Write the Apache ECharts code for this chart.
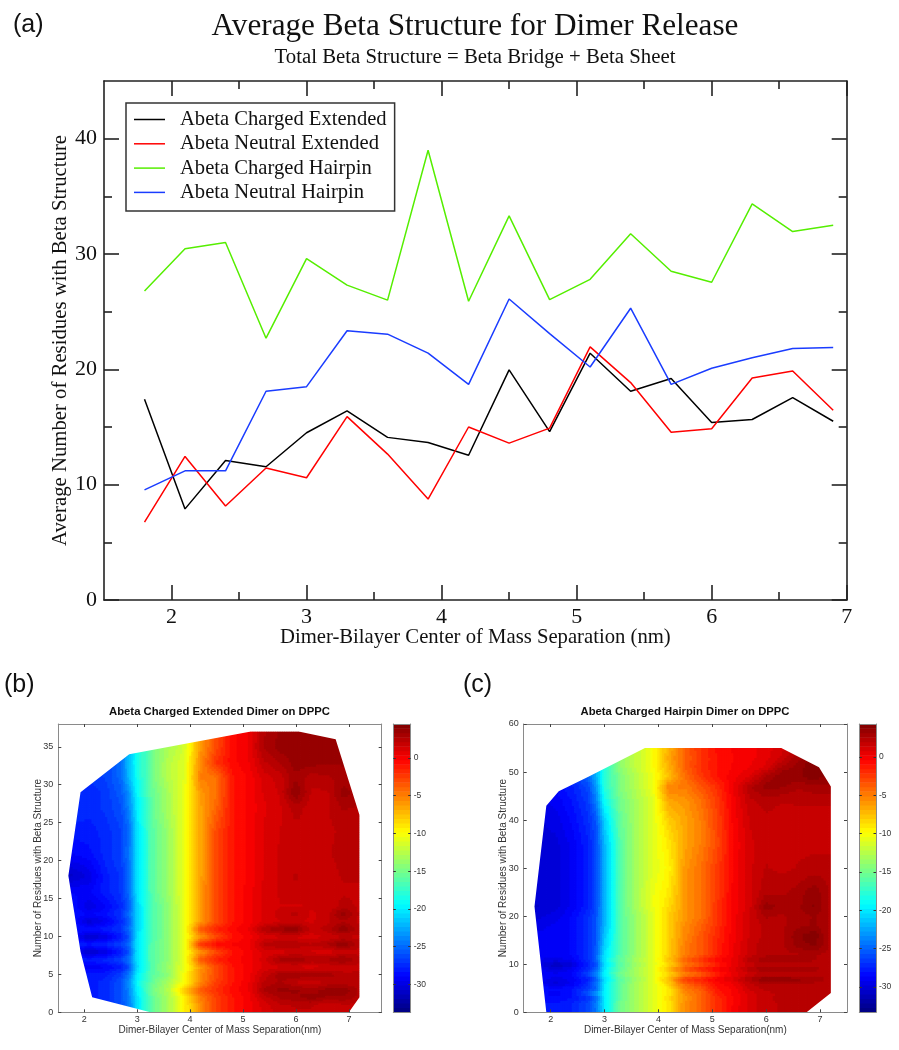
<!DOCTYPE html>
<html>
<head>
<meta charset="utf-8">
<style>html,body{margin:0;padding:0;background:#fff}#chart{width:899px;height:1050px}</style>
<script src="https://cdn.jsdelivr.net/npm/echarts@6/dist/echarts.min.js"></script>
</head>
<body>
<div id="chart"></div>
<script>
// ---------- panel (a) ----------
const separation = [1.8,2.1,2.4,2.7,3.0,3.3,3.6,3.9,4.2,4.5,4.8,5.1,5.4,5.7,6.0,6.3,6.6,6.9];
const chargedExtended = [17.4,7.9,12.1,11.55,14.5,16.4,14.1,13.65,12.55,19.95,14.6,21.4,18.1,19.2,15.4,15.65,17.55,15.5];
const neutralExtended = [6.75,12.45,8.15,11.45,10.6,15.9,12.65,8.75,15.0,13.6,14.9,21.95,18.85,14.55,14.85,19.25,19.85,16.45];
const chargedHairpin = [26.8,30.45,31.0,22.7,29.6,27.3,26.0,39.0,25.9,33.3,26.05,27.8,31.75,28.5,27.55,34.35,31.95,32.5];
const neutralHairpin = [9.55,11.2,11.2,18.1,18.5,23.35,23.05,21.4,18.7,26.1,23.1,20.2,25.3,18.7,20.1,21.0,21.8,21.9];
const xMajorA = [2,3,4,5,6,7];
const xMinorA = [2.5,3.5,4.5,5.5,6.5];
const yMajorA = [0,10,20,30,40];
const yMinorA = [5,15,25,35];

// ---------- contour grids: one row per residue count, one column per separation ----------
const fieldX = [1.7,2.1,2.4,2.7,2.85,3.0,3.3,3.6,3.9,4.2,4.5,4.8,5.1,5.4,5.7,6.0,6.3,6.6,6.9,7.2];

const fieldYB = [0,1,2,3,4,5,6,7,8,9,10,11,12,13,14,16,18,21,24,27,29,31,33,35,37];
const fieldB = [
[-28,-28,-27.5,-26,-24.5,-20.5,-15.5,-13,-9.5,-5.5,-2.5,-1,0,1,1.8,2,2,1.5,2,2],
[-28,-28,-27.5,-26,-24.5,-20.5,-15.5,-13,-9.5,-5.5,-2.5,-1,0,1.2,2,2.2,2.2,1.5,2,2],
[-28,-28,-27.5,-26,-24,-20.5,-15.5,-13,-9.5,-5,-2.5,-1,0,1.8,2.8,3.2,3.6,3.2,3.2,2.5],
[-28,-28,-27.5,-26,-24,-20,-15,-12.5,-7.5,-3.5,-2,-.5,.2,2.8,3.5,3.4,3,3.6,3.8,2.6],
[-28,-28,-27.5,-26,-23.5,-19.5,-15.5,-13,-10,-5.5,-2.5,-1,.2,2.2,2.8,2,1.6,2.2,2.2,2.4],
[-28,-28,-28,-26.5,-24.5,-20,-16,-14,-10,-5.5,-3,-1,0,1.8,3,3.2,3.2,3,2.4,2.2],
[-28,-29.5,-29,-28,-26,-21,-16,-13.5,-10.5,-6,-3,-1,0,1,1.4,1.4,1.2,1.6,1.6,2],
[-28,-28,-27.5,-26.5,-24.5,-20.5,-16,-14,-10.5,-3.5,-1.5,-.5,0,1.2,3,3.4,2.6,2.8,3.6,2.2],
[-28,-31,-30,-28,-26,-20.5,-16,-14,-10.5,-6,-3,-1,0,1,1.2,1.6,1.4,1.2,1.6,2],
[-28,-28,-27.5,-26.5,-25,-20.5,-16,-14,-10.5,-2,-.6,-.2,.2,2.4,2.8,2.6,2.2,2.8,4.1,2.2],
[-28,-31,-30,-28,-26,-20.5,-16.5,-14,-10.5,-6,-3,-1,0,1,1.4,1.4,1.2,1.6,2,2],
[-28,-28.5,-28,-27,-25,-21,-16.5,-14,-10.5,-3.5,-1.5,-.5,.3,2.6,3.4,3.9,1.8,2.4,4,2.2],
[-28,-30.5,-29.5,-27.5,-25.5,-21,-16.5,-14,-10.5,-6,-3,-1,0,1,1.5,1.6,1.4,2,2.6,2],
[-28,-29,-28.5,-27,-25,-21,-16.5,-14,-10.5,-6,-3,-1,0,1,1.8,2.4,1.4,1.8,3.8,2],
[-28,-30,-29,-27.5,-25.5,-21,-16.5,-14,-10.5,-6,-3,-1,0,1,1.5,1.4,1.6,1.6,2.4,2],
[-29,-29,-28,-27,-25,-20.5,-16,-13.5,-10.5,-6,-3,-1,0,1,1.6,2,1.6,1.6,2,2],
[-31,-30,-28,-27,-25,-20.5,-16,-13.5,-10.5,-6.5,-3,-1,-.2,1,1.6,2.2,1.6,1.8,2.2,2.2],
[-29,-28.5,-27.5,-26.5,-24.5,-20.5,-16,-13.5,-10.5,-6.5,-3,-1,-.2,1,1.6,1.8,1.8,2,2.4,2.2],
[-28,-28,-27.5,-26.5,-25,-20.5,-16,-13.5,-10.5,-6.5,-3,-1,-.2,1,1.5,1.9,2,2,2.2,2.2],
[-27,-27.5,-27,-26,-24,-20,-15.5,-13,-10.5,-6.5,-4,-1,-.2,.8,1.4,2.4,1.8,2,2.8,2.6],
[-27,-27.5,-27,-25.5,-23.5,-19.5,-15.5,-13,-10.5,-6,-4.5,-1,-.2,1,1.6,4,2,2,3.6,3],
[-27,-27,-26.5,-25,-22,-19,-15,-12.5,-11,-5,-4.5,-1,-.2,1.2,1.8,3.2,2.4,2.6,3,3],
[-27,-27,-26.5,-25,-21.5,-19,-15,-12.5,-11,-5.5,-2,-.5,.2,2,2.8,3.6,3.6,3.4,3.4,3],
[-26.5,-26.5,-26,-25,-22,-19,-15,-13,-11.5,-6,-3,-.5,.3,2.8,3.6,3.4,3.6,3.8,3.4,3],
[-26.5,-26.5,-26,-25,-22,-19,-15,-13,-11.5,-6,-3,-.5,.3,2.6,3.4,3.4,3.6,3.6,3.4,3]
];
const hullB = [[1.7,18],[1.93,29],[2.85,34],[5.15,37],[6.05,37],[6.75,36],[7.2,26],[7.2,2],[7,0],[3.25,0],[2.15,2],[1.93,8],[1.7,18]];

const fieldYC = [0,2,3,4,5,6,7,8,9,10,11,12,14,16,18,20,22,25,30,35,40,44,47,49,51,53,55];
const fieldC = [
[-28,-28,-27.5,-26,-24.5,-20,-15,-13,-11,-9,-5.5,-4,-2,-.2,1,1.8,2,2,2,2],
[-28,-28,-27.5,-26,-24,-20,-15,-13,-11,-9,-5.5,-4,-2,-.3,1,1.8,2,2,2,2],
[-28,-28.5,-28,-27,-25,-20,-15.5,-13,-11,-8.5,-6,-4,-2,-.3,1,1.8,2.2,2.2,2.2,2.2],
[-28,-29,-28,-25.5,-23,-19.5,-15.5,-13,-11,-9,-5.5,-4,-1.5,-.3,1,1.8,2,2.2,2,2.2],
[-28,-28.5,-28,-26.5,-25,-20,-15.5,-13,-11,-9,-5,-3.5,-1,-.2,1.5,2.2,2.4,2,2.2,2.4],
[-28.5,-30,-29,-27,-24.5,-20,-15.5,-13,-11,-8,-4,-2.5,-.8,.2,1.8,2.6,2.4,2.4,2.4,2.2],
[-28.5,-29.5,-29,-27.5,-25.5,-20.5,-16,-13.5,-11,-7,-2.5,-1.5,0,1,2.6,4,3.6,3.4,3,2.4],
[-28.5,-29,-28.5,-26,-23.5,-19.5,-15,-13,-11,-8.5,-5.5,-4,-1.5,.2,1.4,2,2,2,2,2.2],
[-28.5,-30,-29,-27,-25,-20,-15.5,-13,-11,-7,-3.5,-1.5,-.3,.6,2.4,3.2,3.2,3,2.8,2.2],
[-29,-31,-30,-27.5,-26,-20.5,-16,-13.5,-11,-8.5,-5,-3.5,-1.5,.3,1.6,2,2,2,2.2,2.2],
[-29,-29.5,-29,-27,-25,-20,-15.5,-13,-11,-7.5,-4,-2,-.5,.4,2.4,3,3,3,2.6,2.2],
[-29,-29,-28.5,-27,-25,-20.5,-16,-13.5,-11,-8,-5,-3.5,-1.5,.2,1.6,2.4,2.4,2.4,2.6,2.2],
[-29,-29,-28.5,-27,-25.5,-21,-16,-13.5,-11,-8,-5,-3.5,-1.5,.1,1.6,2.4,2.4,3.4,3.8,2.4],
[-29,-29,-28.5,-27,-25.5,-21.5,-16,-13.5,-11,-8,-5.5,-3.5,-1.8,0,1.4,2.2,2.4,3.6,4.2,2.4],
[-29.5,-29,-28.5,-27,-25.5,-22,-16,-13.5,-11,-8,-5.5,-4,-2,0,1.4,2.2,2.4,3,3.2,2.4],
[-30,-29.5,-28.5,-27,-25.5,-22,-16,-13.5,-11,-8,-6,-4.5,-2.2,-.1,1.4,2.6,2.4,2.8,3.2,2.4],
[-30.5,-30,-29,-27.5,-26,-22,-16,-13,-10.5,-8.5,-6,-4.5,-2.2,-.2,1.2,3.4,3,3,3.8,2.4],
[-30,-30,-29,-27.5,-26,-22,-16,-13,-10.5,-9,-6,-4.5,-2.4,-.2,1.2,2.4,2.4,2.8,3.6,2.4],
[-30,-30,-29,-27.5,-26,-22,-16,-13,-11,-9.5,-6,-4.5,-2.5,-.3,1.2,2,1.8,2,2.2,2.2],
[-30,-30,-29,-27.5,-26,-22,-16,-13,-11,-9,-6.5,-5,-3,-.4,1.2,1.8,1.6,1.8,1.8,1.8],
[-30,-29.5,-28.5,-27,-25.5,-21,-15.5,-13,-11,-8,-6.5,-5,-2.8,-.2,1.4,1.8,1.6,1.8,1.8,1.8],
[-29.5,-29,-28,-26.5,-24,-19,-15,-13,-11,-6.5,-6,-4.5,-2.5,0,1.8,2.2,2,2,2,2],
[-29,-28.5,-27.5,-26,-23,-18,-14.5,-12.5,-10.5,-5,-5,-3.5,-2,.2,2.4,3.4,3.2,2.6,3,3],
[-29,-28,-27,-25,-22,-18,-14.5,-12.5,-10.5,-7.5,-4.5,-2.5,-1,0,.8,2.8,3.6,3.6,4,3.4],
[-29,-28,-27,-25,-22,-18,-14,-12,-10,-7,-4,-2,-1,-.3,.2,1,2.8,3.4,4.4,3.6],
[-29,-28,-27,-25,-22,-18,-14,-12,-10,-6.5,-4,-2.2,-1,-.4,0,.5,1.5,3,4,3.6],
[-29,-28,-27,-25,-22,-18,-14,-12,-10,-7,-4,-2,-.8,-.3,0,.5,1.2,2.5,4,3.6]
];
const hullC = [[1.7,22],[1.92,43],[2.15,46],[2.7,49],[3.75,55],[6.28,55],[6.98,51],[7.2,47],[7.2,4],[6.75,0],[1.92,0],[1.7,22]];

const panelXTicks = [2,3,4,5,6,7];
const yTicksB = [0,5,10,15,20,25,30,35];
const yTicksC = [0,10,20,30,40,50,60];
const barTicks = [-30,-25,-20,-15,-10,-5,0];
const COLOR_LEVELS = 64;

// ---------- helpers ----------
function jet(t){
  t = Math.max(0, Math.min(0.9999, t));
  t = (Math.floor(t * COLOR_LEVELS) + 0.5) / COLOR_LEVELS;
  const c = v => Math.round(255 * Math.max(0, Math.min(1, v)));
  const r = 1.5 - Math.abs(4 * t - 3), g = 1.5 - Math.abs(4 * t - 2), b = 1.5 - Math.abs(4 * t - 1);
  return 'rgb(' + c(r) + ',' + c(g) + ',' + c(b) + ')';
}
const serif = '"Liberation Serif","Times New Roman",serif';
const sans = '"Liberation Sans",Arial,sans-serif';

const grids = [], xAxes = [], yAxes = [], series = [];
function addGrid(l, t, w, h){ grids.push({left:l, top:t, width:w, height:h, containLabel:false}); return grids.length - 1; }

function axis(store, o){
  const lineW = o.lineWidth, col = o.lineColor;
  const a = {
    type:'value', gridIndex:o.grid, min:o.min, max:o.max, position:o.position, z:5, silent:true,
    axisLine:{show:o.line !== false, onZero:false, lineStyle:{color:col, width:lineW}},
    axisTick:{show:!!o.ticks, inside:true, length:o.tickLen || 3, customValues:o.ticks,
      lineStyle:{color:o.tickColor || col, width:o.tickWidth || lineW}},
    splitLine:{show:false}, minorTick:{show:false},
    axisLabel:o.labels ? {show:true, customValues:o.labels, margin:o.margin, fontFamily:o.font, fontSize:o.fontSize, color:o.labelColor,
      showMinLabel:true, showMaxLabel:true, hideOverlap:false} : {show:false}
  };
  if (o.name){
    a.name = o.name; a.nameLocation = 'middle'; a.nameGap = o.nameGap; a.nameMoveOverlap = false;
    a.nameTextStyle = {fontFamily:o.font, fontSize:o.nameSize, color:o.labelColor};
    if (o.nameRotate !== undefined) a.nameRotate = o.nameRotate;
  }
  store.push(a);
  return store.length - 1;
}

// ---------- panel (a) ----------
const gA = addGrid(104, 81, 742.7, 519);
const st = {grid:gA, lineColor:'#222', lineWidth:1.6};
const sx = Object.assign({}, st, {min:1.5, max:7});
const sy = Object.assign({}, st, {min:0, max:45});
const axA = axis(xAxes, Object.assign({}, sx, {position:'bottom', ticks:xMajorA, tickLen:15, labels:xMajorA, margin:6, font:serif, fontSize:22, labelColor:'#111',
  name:'Dimer-Bilayer Center of Mass Separation (nm)', nameGap:27, nameSize:20.7}));
axis(xAxes, Object.assign({}, sx, {position:'bottom', line:false, ticks:xMinorA, tickLen:8}));
axis(xAxes, Object.assign({}, sx, {position:'top', ticks:xMajorA, tickLen:15}));
axis(xAxes, Object.assign({}, sx, {position:'top', line:false, ticks:xMinorA, tickLen:8}));
const ayA = axis(yAxes, Object.assign({}, sy, {position:'left', ticks:yMajorA, tickLen:15, labels:yMajorA, margin:7, font:serif, fontSize:22, labelColor:'#111',
  name:'Average Number of Residues with Beta Structure', nameGap:33, nameSize:20.75}));
axis(yAxes, Object.assign({}, sy, {position:'left', line:false, ticks:yMinorA, tickLen:8}));
axis(yAxes, Object.assign({}, sy, {position:'right', ticks:yMajorA, tickLen:15}));
axis(yAxes, Object.assign({}, sy, {position:'right', line:false, ticks:yMinorA, tickLen:8}));

const lines = [
  ['Abeta Charged Extended', chargedExtended, '#000000'],
  ['Abeta Neutral Extended', neutralExtended, '#ff0000'],
  ['Abeta Charged Hairpin', chargedHairpin, '#55ee00'],
  ['Abeta Neutral Hairpin', neutralHairpin, '#1a3cff']
];
lines.forEach(l => series.push({
  type:'line', name:l[0], xAxisIndex:axA, yAxisIndex:ayA, symbol:'none', silent:true, animation:false,
  data:separation.map((x,i) => [x, l[1][i]]),
  lineStyle:{color:l[2], width:1.5}, itemStyle:{color:l[2]}
}));

// ---------- panels (b), (c) ----------
function panel(p){
  const g = addGrid(p.left, 724, p.width, 288.3);
  const base = {grid:g, lineColor:'#8a8a8a', lineWidth:1, tickColor:'#444', tickWidth:1};
  const bx = Object.assign({}, base, {min:p.xMin, max:p.xMax});
  const by = Object.assign({}, base, {min:0, max:p.yMax});
  const ax = axis(xAxes, Object.assign({}, bx, {position:'bottom', ticks:panelXTicks, tickLen:3, labels:panelXTicks, margin:3, font:sans, fontSize:9, labelColor:'#333',
    name:'Dimer-Bilayer Center of Mass Separation(nm)', nameGap:13, nameSize:10}));
  axis(xAxes, Object.assign({}, bx, {position:'top', ticks:panelXTicks, tickLen:3}));
  const ay = axis(yAxes, Object.assign({}, by, {position:'left', ticks:p.yTicks, tickLen:3, labels:p.yTicks, margin:5, font:sans, fontSize:9, labelColor:'#333',
    name:'Number of Residues with Beta Structure', nameGap:p.nameGap, nameSize:10}));
  axis(yAxes, Object.assign({}, by, {position:'right', ticks:p.yTicks, tickLen:3}));

  const cells = [];
  for (let j = 0; j < p.ys.length - 1; j++) for (let i = 0; i < fieldX.length - 1; i++) cells.push([fieldX[i], p.ys[j], i, j]);
  series.push({
    type:'custom', xAxisIndex:ax, yAxisIndex:ay, silent:true, animation:false, progressive:0, z:2, clip:true,
    encode:{x:0, y:1}, data:cells,
    renderItem(params, api){
      const i = api.value(2), j = api.value(3);
      const a = api.coord([fieldX[i], p.ys[j]]), b = api.coord([fieldX[i + 1], p.ys[j + 1]]);
      const w = b[0] - a[0], h = a[1] - b[1];
      const nx = Math.max(1, Math.ceil(w / 2.5)), ny = Math.max(1, Math.ceil(h / 2.5));
      const z = p.field, children = [];
      for (let m = 0; m < ny; m++) for (let n = 0; n < nx; n++){
        const u = (n + .5) / nx, v = (m + .5) / ny;
        const val = (1-u)*(1-v)*z[j][i] + u*(1-v)*z[j][i+1] + (1-u)*v*z[j+1][i] + u*v*z[j+1][i+1];
        children.push({type:'rect', silent:true,
          shape:{x:a[0] + w*n/nx - .4, y:a[1] - h*(m+1)/ny - .4, width:w/nx + .8, height:h/ny + .8},
          style:{fill:jet((val - p.barMin) / (p.barMax - p.barMin))}});
      }
      return {type:'group', silent:true, children};
    }
  });

  // white surround: everything in the frame that lies outside the sampled region
  series.push({
    type:'custom', xAxisIndex:ax, yAxisIndex:ay, silent:true, animation:false, z:3, clip:true,
    encode:{x:0, y:1}, data:[[p.hull[0][0], p.hull[0][1]]],
    renderItem(params, api){
      const y0 = p.hull[0][1];
      const ring = [[p.xMin,y0],[p.xMin,0],[p.xMax,0],[p.xMax,p.yMax],[p.xMin,p.yMax],[p.xMin,y0]].concat(p.hull);
      return {type:'polygon', silent:true, shape:{points:ring.map(q => api.coord(q))}, style:{fill:'#fff'}};
    }
  });

  // colour bar
  const gb = addGrid(p.barLeft, 724, p.barWidth, 288.3);
  const bb = {grid:gb, lineColor:'#8a8a8a', lineWidth:1, tickColor:'#333', tickWidth:1};
  const bax = axis(xAxes, Object.assign({}, bb, {min:0, max:1, position:'bottom'}));
  axis(xAxes, Object.assign({}, bb, {min:0, max:1, position:'top'}));
  const bay = axis(yAxes, Object.assign({}, bb, {min:p.barMin, max:p.barMax, position:'right', ticks:barTicks, tickLen:2.5, labels:barTicks, margin:3, font:sans, fontSize:8.5, labelColor:'#333'}));
  axis(yAxes, Object.assign({}, bb, {min:p.barMin, max:p.barMax, position:'left', ticks:barTicks, tickLen:2.5}));
  const levels = [];
  for (let k = 0; k < COLOR_LEVELS; k++) levels.push([0, k]);
  series.push({
    type:'custom', xAxisIndex:bax, yAxisIndex:bay, silent:true, animation:false, progressive:0, z:2, clip:true,
    encode:{x:0}, data:levels,
    renderItem(params, api){
      const k = api.value(1), s = (p.barMax - p.barMin) / COLOR_LEVELS;
      const a = api.coord([0, p.barMin + k*s]), b = api.coord([1, p.barMin + (k+1)*s]);
      return {type:'rect', silent:true, shape:{x:a[0], y:b[1] - .3, width:b[0]-a[0], height:a[1]-b[1] + .6},
        style:{fill:jet((k + .5) / COLOR_LEVELS)}};
    }
  });
}
panel({left:58.3, width:323.4, xMin:1.51, xMax:7.62, yMax:38, yTicks:yTicksB, ys:fieldYB, field:fieldB, hull:hullB,
  barLeft:393.3, barWidth:17.4, barMin:-33.7, barMax:4.5, nameGap:15});
panel({left:523.7, width:323.3, xMin:1.5, xMax:7.5, yMax:60, yTicks:yTicksC, ys:fieldYC, field:fieldC, hull:hullC,
  barLeft:859.3, barWidth:16.7, barMin:-33.3, barMax:4.3, nameGap:15.7});

// ---------- option ----------
const text = (t, cx, top, font, size, weight, align) => ({text:t, left:cx, top, textAlign:align || 'center', padding:0,
  textStyle:{fontFamily:font, fontSize:size, fontWeight:weight || 'normal', color:'#111'}});
const option = {
  animation:false, backgroundColor:'#fff',
  title:[
    text('Average Beta Structure for Dimer Release', 475, 11, serif, 31.2),
    text('Total Beta Structure = Beta Bridge + Beta Sheet', 475, 47, serif, 20.8),
    text('(a)', 13, 13, sans, 25, 'normal', 'left'),
    text('(b)', 4, 673, sans, 25, 'normal', 'left'),
    text('(c)', 463, 673, sans, 25, 'normal', 'left'),
    text('Abeta Charged Extended Dimer on DPPC', 219.5, 706.5, sans, 11.3, 'bold'),
    text('Abeta Charged Hairpin Dimer on DPPC', 685, 706.5, sans, 11.3, 'bold')
  ],
  legend:{
    data:lines.map(l => ({name:l[0], icon:'rect'})), orient:'vertical', left:126, top:103, z:6,
    backgroundColor:'#fff', borderColor:'#333', borderWidth:1.5, padding:[6,8,8,8],
    itemWidth:31, itemHeight:1.5, itemGap:3.3, selectedMode:false,
    textStyle:{fontFamily:serif, fontSize:20.6, lineHeight:20, color:'#111', padding:[0,0,0,10]}
  },
  grid:grids, xAxis:xAxes, yAxis:yAxes, series
};
const chart = echarts.init(document.getElementById('chart'), null, {renderer:'canvas', width:899, height:1050});
chart.setOption(option);
</script>
</body>
</html>
